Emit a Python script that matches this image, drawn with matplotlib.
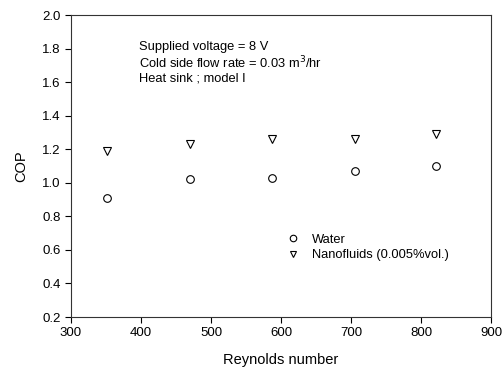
import matplotlib.pyplot as plt

plt.rcParams['font.family'] = ['Liberation Sans', 'DejaVu Sans']

reynolds = [352, 470, 587, 705, 822]
cop_water = [0.91, 1.02, 1.03, 1.07, 1.10]
cop_nano = [1.19, 1.23, 1.26, 1.26, 1.29]

fig = plt.figure(figsize=(5.03, 3.73), dpi=100)
ax = fig.add_axes([71 / 503, 1 - 317 / 373, 420 / 503, 302 / 373])

ax.plot(reynolds, cop_water, linestyle='none', marker='o', markersize=5.5,
        markerfacecolor='white', markeredgecolor='black', markeredgewidth=0.8,
        label='Water')
ax.plot(reynolds, cop_nano, linestyle='none', marker='v', markersize=5.5,
        markerfacecolor='white', markeredgecolor='black', markeredgewidth=0.8,
        label='Nanofluids (0.005%vol.)')

ax.set_xlim(300, 900)
ax.set_ylim(0.2, 2.0)
ax.set_xticks(range(300, 901, 100))
ax.set_yticks([0.2, 0.4, 0.6, 0.8, 1.0, 1.2, 1.4, 1.6, 1.8, 2.0])
ax.set_yticklabels(['%.1f' % v for v in ax.get_yticks()])
ax.tick_params(direction='out', length=4, width=0.8, labelsize=9.5, top=False, right=False)
for s in ax.spines.values():
    s.set_linewidth(0.8)
    s.set_color('#333333')

ax.set_xlabel('Reynolds number', fontsize=10.5, labelpad=10)
ax.set_ylabel('COP', fontsize=10.5, labelpad=10)

ax.text(0.161, 0.915, 'Supplied voltage = 8 V\nCold side flow rate = 0.03 m$^{3}$/hr\nHeat sink ; model I',
        transform=ax.transAxes, fontsize=9.3, va='top', linespacing=1.13)

ax.legend(loc='upper left', bbox_to_anchor=(0.47, 0.315), frameon=False, fontsize=9.3,
          handletextpad=0.5, labelspacing=0.3, markerscale=0.85)

fig.savefig('out.png', dpi=100)
